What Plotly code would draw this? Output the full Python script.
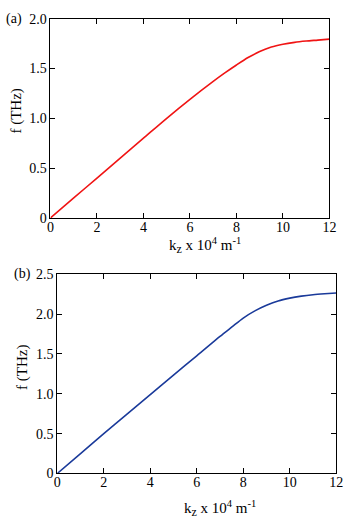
import plotly.graph_objects as go

# datos
kz = [0, 1, 2, 3, 4, 5, 6, 7, 7.5, 8, 8.5, 9, 9.5, 10, 10.5, 11, 11.5, 12]
f_a = [0, 0.2, 0.4, 0.6, 0.8, 1.0, 1.19, 1.37, 1.455, 1.535, 1.61, 1.67, 1.715, 1.743, 1.762, 1.775,
       1.785, 1.795]
f_b = [0, 0.25, 0.5, 0.745, 0.99, 1.235, 1.475, 1.72, 1.835, 1.95, 2.04, 2.11, 2.165, 2.2, 2.225, 2.243,
       2.255, 2.265]

x_ticks = [0, 2, 4, 6, 8, 10, 12]
ya_ticks = [0, 0.5, 1.0, 1.5, 2.0]
ya_text = ["0", "0.5", "1.0", "1.5", "2.0"]
yb_ticks = [0, 0.5, 1.0, 1.5, 2.0, 2.5]
yb_text = ["0", "0.5", "1.0", "1.5", "2.0", "2.5"]

FONT = "Liberation Serif"
W, H = 350, 532

fig = go.Figure()

fig.add_trace(go.Scatter(x=kz, y=f_a, mode="lines",
                         line=dict(color="#f01414", width=1.6, shape="spline", smoothing=0.8),
                         xaxis="x", yaxis="y", showlegend=False))
fig.add_trace(go.Scatter(x=kz, y=f_b, mode="lines",
                         line=dict(color="#1a3a9a", width=1.6, shape="spline", smoothing=0.8),
                         xaxis="x2", yaxis="y2", showlegend=False))

eje = dict(showgrid=False, zeroline=False, showline=True, linecolor="black", linewidth=1,
           mirror="ticks", ticks="inside", ticklen=5, tickcolor="black",
           ticklabeloverflow="allow",
           tickfont=dict(family=FONT, size=14, color="black"))

fig.update_layout(
    width=W, height=H,
    margin=dict(l=0, r=0, t=0, b=0),
    plot_bgcolor="white", paper_bgcolor="white",
    font=dict(family=FONT, size=14, color="black"),
    xaxis=dict(eje, domain=[48 / W, 336 / W], range=[0, 12], tickvals=x_ticks, anchor="y",
               ticklabelstandoff=-4),
    yaxis=dict(eje, domain=[1 - 217 / H, 1 - 12 / H], range=[0, 2.0], tickvals=ya_ticks, ticktext=ya_text,
               anchor="x"),
    xaxis2=dict(eje, domain=[55 / W, 343 / W], range=[0, 12], tickvals=x_ticks, anchor="y2",
                ticklabelstandoff=-4),
    yaxis2=dict(eje, domain=[1 - 480 / H, 1 - 275 / H], range=[0, 2.5], tickvals=yb_ticks, ticktext=yb_text,
                anchor="x2"),
)

xtitle = ("k<sub><span style='font-size:12px'>z</span></sub>&nbsp;x 10<sup>4</sup>&nbsp;m<sup>-1</sup>")
notas = [
    dict(text="(a)", x=0 / W, y=1 - 12 / H, xanchor="left", yanchor="middle", size=14),
    dict(text="(b)", x=8 / W, y=1 - 275 / H, xanchor="left", yanchor="middle", size=14),
    dict(text=xtitle, x=208 / W, y=1 - 245 / H, xanchor="center", yanchor="middle", size=15),
    dict(text=xtitle, x=223 / W, y=1 - 516 / H, xanchor="center", yanchor="middle", size=15),
    dict(text="f (THz)", x=13 / W, y=1 - 107 / H, xanchor="center", yanchor="middle", textangle=-90, size=15),
    dict(text="f (THz)", x=19 / W, y=1 - 371 / H, xanchor="center", yanchor="middle", textangle=-90, size=15),
]
for n in notas:
    size = n.pop("size")
    fig.add_annotation(xref="paper", yref="paper", showarrow=False,
                       font=dict(family=FONT, size=size, color="black"), **n)

# sin margen del body para que la figura quede en (0, 0), y sin barra de herramientas
fig.write_html("out.html", config={"displayModeBar": False},
               post_script="document.body.style.margin = '0';")
